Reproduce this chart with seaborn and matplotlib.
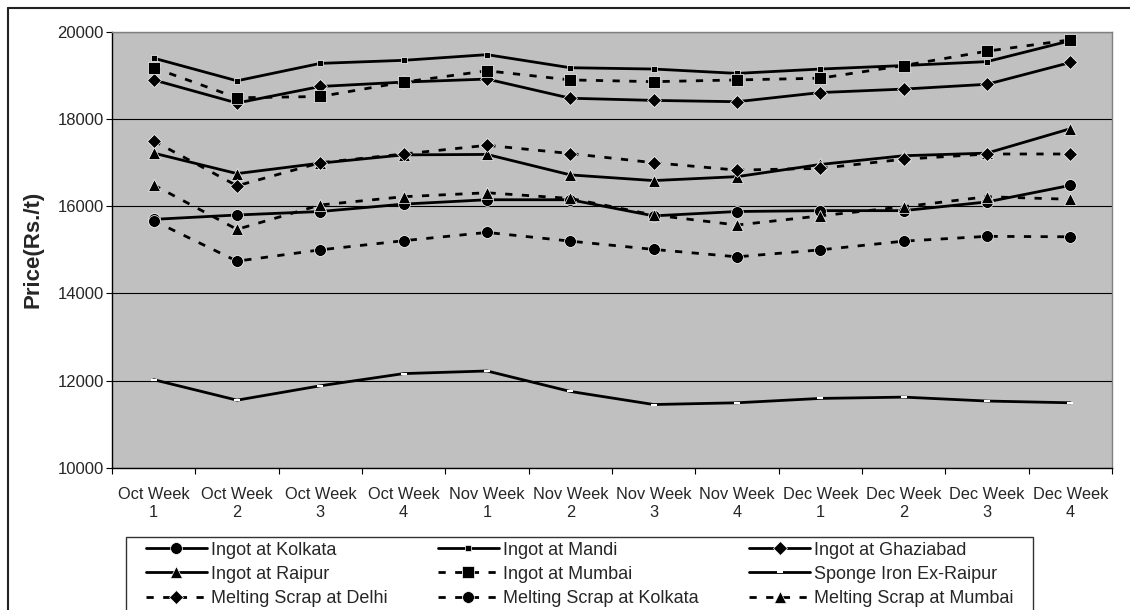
import numpy as np
import pandas as pd
import matplotlib
matplotlib.use("Agg")
import matplotlib.pyplot as plt
import seaborn as sns
from matplotlib.lines import Line2D
from matplotlib.patches import Rectangle

# weekly prices (Rs./t)
weeks = ["Oct Week\n1", "Oct Week\n2", "Oct Week\n3", "Oct Week\n4",
         "Nov Week\n1", "Nov Week\n2", "Nov Week\n3", "Nov Week\n4",
         "Dec Week\n1", "Dec Week\n2", "Dec Week\n3", "Dec Week\n4"]

ingot_kolkata = [15700, 15800, 15880, 16050, 16150, 16150, 15780, 15880, 15900, 15900, 16100, 16480]
ingot_mandi = [19400, 18880, 19280, 19350, 19480, 19180, 19150, 19050, 19150, 19230, 19320, 19800]
ingot_ghaziabad = [18900, 18370, 18750, 18850, 18920, 18480, 18430, 18400, 18610, 18690, 18800, 19300]
ingot_raipur = [17220, 16750, 16990, 17180, 17190, 16720, 16590, 16680, 16960, 17160, 17220, 17780]
ingot_mumbai = [19180, 18490, 18520, 18850, 19110, 18900, 18860, 18900, 18940, 19230, 19560, 19820]
sponge_raipur = [12020, 11550, 11880, 12160, 12220, 11750, 11450, 11490, 11590, 11620, 11530, 11490]
scrap_delhi = [17500, 16470, 17000, 17200, 17400, 17210, 17000, 16830, 16870, 17080, 17200, 17200]
scrap_kolkata = [15670, 14740, 15000, 15210, 15400, 15200, 15010, 14840, 15000, 15200, 15310, 15300]
scrap_mumbai = [16490, 15470, 16030, 16220, 16310, 16180, 15800, 15570, 15780, 15990, 16220, 16160]

yticks = [10000, 12000, 14000, 16000, 18000, 20000]

solid = "-"
dashed = (0, (2.6, 3.4))

# name, values, marker, marker size, line style
series = [
    ("Ingot at Kolkata", ingot_kolkata, "o", 8.5, solid),
    ("Ingot at Mandi", ingot_mandi, "s", 5, solid),
    ("Ingot at Ghaziabad", ingot_ghaziabad, "D", 7, solid),
    ("Ingot at Raipur", ingot_raipur, "^", 9, solid),
    ("Ingot at Mumbai", ingot_mumbai, "s", 8.5, dashed),
    ("Sponge Iron Ex-Raipur", sponge_raipur, "_", 5, solid),
    ("Melting Scrap at Delhi", scrap_delhi, "D", 7, dashed),
    ("Melting Scrap at Kolkata", scrap_kolkata, "o", 8.5, dashed),
    ("Melting Scrap at Mumbai", scrap_mumbai, "^", 9, dashed),
]

sns.set_style("white")
plt.rcParams["font.family"] = ["Liberation Sans", "DejaVu Sans"]

fig = plt.figure(figsize=(11.3, 6.1), dpi=100)
ax = fig.add_axes([112 / 1130, 1 - 467.7 / 610, 1000 / 1130, 435.7 / 610])
ax.set_facecolor("#C0C0C0")

x = np.arange(len(weeks))
for name, vals, m, ms, ls in series:
    df = pd.DataFrame({"week": x, "price": vals})
    sns.lineplot(data=df, x="week", y="price", ax=ax, color="black",
                 marker=m, markersize=ms, markeredgewidth=1.5 if m == "_" else 0.5,
                 linewidth=2, linestyle=ls, label=name, sort=False, zorder=3)

ax.set_xlim(-0.5, len(weeks) - 0.5)
ax.set_ylim(10000, 20000)
ax.set_yticks(yticks)
ax.yaxis.grid(True, color="black", linewidth=0.8)
ax.set_axisbelow(True)

# ticks at category boundaries, labels centred
ax.set_xticks(np.arange(len(weeks) + 1) - 0.5)
ax.set_xticklabels([])
ax.set_xticks(x, minor=True)
ax.set_xticklabels(weeks, minor=True)
ax.tick_params(axis="x", which="major", length=4, width=0.8, color="black", bottom=True)
ax.tick_params(axis="x", which="minor", length=0, pad=14, labelsize=11.8)
ax.tick_params(axis="y", length=4, width=0.8, color="black", left=True, pad=2, labelsize=12)

ax.set_xlabel("")
ax.set_ylabel("Price(Rs./t)", fontsize=16, fontweight="bold", labelpad=10)

for s in ["left", "bottom"]:
    ax.spines[s].set_color("black")
    ax.spines[s].set_linewidth(1)
for s in ["top", "right"]:
    ax.spines[s].set_color("#808080")
    ax.spines[s].set_linewidth(1)

handles, labels = ax.get_legend_handles_labels()
ax.get_legend().remove()
order = [0, 3, 6, 1, 4, 7, 2, 5, 8]
leg = fig.legend([handles[i] for i in order], [labels[i] for i in order],
                 loc="upper left", bbox_to_anchor=(141 / 1130, 1 - 537 / 610, 877 / 1130, 0),
                 mode="expand", ncol=3, fontsize=13, frameon=False,
                 handlelength=3.4, handletextpad=0.2,
                 labelspacing=0.4, borderpad=0.25, borderaxespad=0, columnspacing=0.5)

# legend frame (runs off the bottom of the chart)
fig.add_artist(Rectangle((126 / 1130, -0.05), 907 / 1130, 0.05 + 1 - 537 / 610,
                         transform=fig.transFigure, facecolor="none",
                         edgecolor="#333333", linewidth=1, zorder=0))

# outer chart border
fig.add_artist(Line2D([8 / 1130, 8 / 1130], [0, 1 - 8 / 610], transform=fig.transFigure,
                      color="#222222", linewidth=1.5))
fig.add_artist(Line2D([8 / 1130, 1], [1 - 8 / 610, 1 - 8 / 610], transform=fig.transFigure,
                      color="#222222", linewidth=1.5))

fig.savefig("out.png", dpi=100)
